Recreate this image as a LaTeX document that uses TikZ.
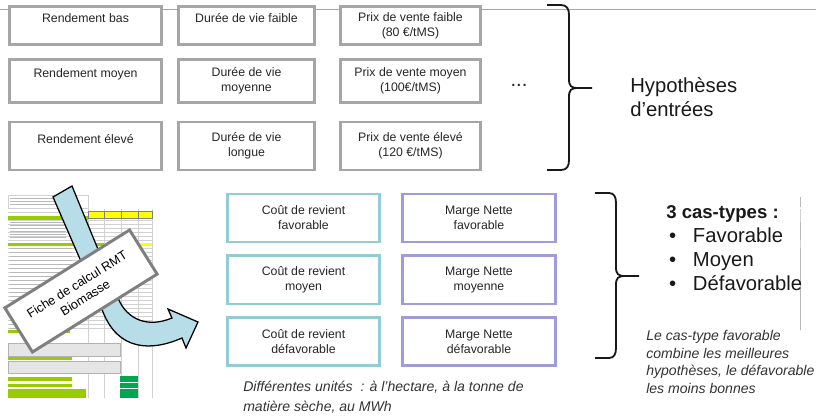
\documentclass[tikz,border=0pt]{standalone}
\usepackage{fontspec}
\setmainfont{Liberation Sans}
\usetikzlibrary{positioning}
\definecolor{boxgray}{HTML}{A6A6A6}
\definecolor{coutcol}{HTML}{92CDD2}
\definecolor{margecol}{HTML}{A09CDC}
\definecolor{flechecol}{HTML}{B7DEE8}
\definecolor{fichecol}{HTML}{7F7F7F}
\definecolor{jaune}{HTML}{FFFF00}
\definecolor{vertclair}{HTML}{99CC00}
\definecolor{vertfonce}{HTML}{00A651}

\begin{document}
\begin{tikzpicture}[x=0.025cm,y=-0.025cm,
    boite/.style={draw=boxgray, line width=2.1pt, fill=white, text=black!85, align=center,
        inner sep=0pt, font=\fontsize{8.75}{10.7}\selectfont},
    cas/.style={boite, draw=#1, minimum height=1.2cm},
    accolade/.style={draw=black!90, line width=1.3pt},
    feuille/.style={draw=black!18, line width=0.2pt},
    feuilletexte/.style={draw=black!28, line width=0.3pt},
    note/.style={text=black!80, align=left, inner sep=0pt, font=\fontsize{10}{12.6}\itshape\selectfont},
    node distance=0.275cm]
\useasboundingbox (0,0) rectangle (816,417);
\fill[white] (0,0) rectangle (816,417);

\draw[boxgray, line width=0.7pt] (0,9) -- (816,9);

% hypotheses d'entree
\node[boite, minimum width=3.8cm, minimum height=0.95cm] (r1) at (85.5,25.5) {Rendement bas\\\mbox{}};
\node[boite, minimum width=3.8cm, minimum height=1.075cm] (r2) at (85.5,81) {Rendement moyen\\\mbox{}};
\node[boite, minimum width=3.8cm, minimum height=1.2cm] (r3) at (85.5,146) {Rendement élevé\\\mbox{}};

\node[boite, minimum width=3.4cm, minimum height=0.95cm] (d1) at (246.5,25.5) {Durée de vie faible\\\mbox{}};
\node[boite, minimum width=3.4cm, minimum height=1.075cm] (d2) at (246.5,81) {Durée de vie\\moyenne};
\node[boite, minimum width=3.4cm, minimum height=1.2cm] (d3) at (246.5,146) {Durée de vie\\longue};

\node[boite, minimum width=3.5cm, minimum height=0.95cm] (p1) at (410.5,25.5) {Prix de vente faible\\(80 €/tMS)};
\node[boite, minimum width=3.5cm, minimum height=1.075cm] (p2) at (410.5,81) {Prix de vente moyen\\(100€/tMS)};
\node[boite, minimum width=3.5cm, minimum height=1.2cm] (p3) at (410.5,146) {Prix de vente élevé\\(120 €/tMS)};

\node[text=black!85, font=\fontsize{14.4}{17}\selectfont, inner sep=0pt] (etc) at (519,85) {...};

\draw[accolade] (547,5) -- (561,5) .. controls (567,5) and (569,9) .. (569,15) -- (569,79)
    .. controls (569,86) and (571,88) .. (578,88) -- (592,88) -- (578,88)
    .. controls (571,88) and (569,90) .. (569,97) -- (569,160)
    .. controls (569,166) and (567,170) .. (561,170) -- (547,170);

\node[anchor=west, align=left, inner sep=0pt, text=black!90, font=\fontsize{14.4}{17}\selectfont] (hyp) at (630,97) {Hypothèses\\d’entrées};

% fiche de calcul
\fill[white] (8,195) rectangle (152,398);
\draw[feuille] (8,195) rectangle (88,208);
\draw[feuilletexte] (10,197) grid[xstep=20cm, ystep=0.075cm] (60,207);
\draw[feuille] (8,209) grid[xstep=20cm, ystep=0.1cm] (152,330);
\draw[feuille] (88,209) -- (88,398) (104,209) -- (104,398) (121,209) -- (121,398) (138,209) -- (138,398) (152,209) -- (152,398);
\draw[feuilletexte] (10,222) grid[xstep=20cm, ystep=0.075cm] (66,240);
\draw[feuilletexte] (10,248) grid[xstep=20cm, ystep=0.1cm] (72,330);
\fill[jaune] (88,211) rectangle (152,218);
\draw[black!50, line width=0.2pt] (88,211) rectangle (152,218) (104,211) -- (104,218) (121,211) -- (121,218) (138,211) -- (138,218);
\fill[vertclair] (8,216) rectangle (88,220);
\fill[vertclair] (8,243) rectangle (104,246);
\fill[jaune] (121,243) rectangle (152,246);
\fill[vertclair] (8,330) rectangle (70,333);
\filldraw[fill=black!10, draw=black!30, line width=0.3pt] (8,343) rectangle (120,356);
\fill[vertclair] (8,357) rectangle (72,360);
\filldraw[fill=black!10, draw=black!30, line width=0.3pt] (8,361) rectangle (120,373);
\fill[vertclair] (8,377) rectangle (72,381);
\fill[vertfonce] (120,376) rectangle (138,382);
\fill[vertclair] (8,384) rectangle (72,387);
\fill[vertfonce] (120,383) rectangle (138,388);
\fill[vertclair] (8,389) rectangle (86,398);
\fill[vertfonce] (120,389) rectangle (138,398);

\filldraw[fill=flechecol, draw=black, line width=0.9pt] (53,197) -- (72,186) -- (118,298)
    .. controls (127,320) and (148,328) .. (172,318) -- (168,309) -- (198,322) -- (186,348) -- (182,338)
    .. controls (150,352) and (118,350) .. (103,312) -- cycle;

\node[draw=fichecol, line width=2.1pt, fill=white, text=black, align=center, inner sep=0pt,
    minimum width=3.675cm, minimum height=1.3cm, rotate=32,
    font=\fontsize{9}{11}\selectfont] (fiche) at (81,291) {Fiche de calcul RMT\\Biomasse};

% resultats
\node[cas=coutcol, minimum width=3.8cm] (c1) at (303.5,218) {Coût de revient\\favorable};
\node[cas=coutcol, minimum width=3.8cm, below=of c1] (c2) {Coût de revient\\moyen};
\node[cas=coutcol, minimum width=3.8cm, below=of c2] (c3) {Coût de revient\\défavorable};
\node[cas=margecol, minimum width=3.825cm, right=0.5cm of c1] (m1) {Marge Nette\\favorable};
\node[cas=margecol, minimum width=3.825cm, below=of m1] (m2) {Marge Nette\\moyenne};
\node[cas=margecol, minimum width=3.825cm, below=of m2] (m3) {Marge Nette\\défavorable};

\node[note, anchor=north west, font=\fontsize{10}{14.2}\itshape\selectfont] (unites) at (243,381)
    {Différentes unités~ : à l'hectare, à la tonne de\\matière sèche, au MWh};

\draw[accolade] (595,193) -- (609,193) .. controls (614,193) and (616,197) .. (616,203) -- (616,267)
    .. controls (616,274) and (618,276) .. (625,276) -- (639,276) -- (625,276)
    .. controls (618,276) and (616,278) .. (616,285) -- (616,348)
    .. controls (616,354) and (614,358) .. (609,358) -- (595,358);

\node[anchor=west, align=left, inner sep=0pt, text=black!90, font=\fontsize{14.4}{17}\selectfont] (castypes) at (666,248)
    {{\fontsize{13.2}{17}\selectfont\bfseries 3 cas-types :}\\
    \hspace{2pt}\makebox[17pt][l]{•}Favorable\\
    \hspace{2pt}\makebox[17pt][l]{•}Moyen\\
    \hspace{2pt}\makebox[17pt][l]{•}Défavorable};

\node[note, anchor=north west] (commentaire) at (646,330)
    {Le cas-type favorable\\combine les meilleures\\hypothèses, le défavorable\\les moins bonnes};
\end{tikzpicture}
\end{document}
